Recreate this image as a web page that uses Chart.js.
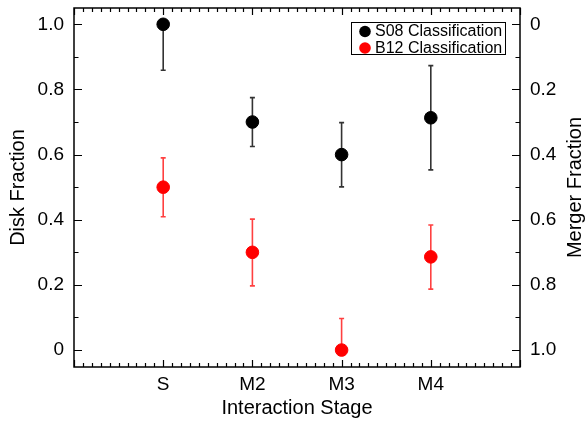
<!DOCTYPE html>
<html>
<head>
<meta charset="utf-8">
<script src="https://cdn.jsdelivr.net/npm/chart.js@4/dist/chart.umd.min.js"></script>
<style>
  html, body { margin: 0; padding: 0; background: #fff; }
  canvas { display: block; }
</style>
</head>
<body>
<canvas id="stageChart" width="587" height="422"></canvas>
<script>
// interaction stages (placed at x = 1..4)
const stages = ['S', 'M2', 'M3', 'M4'];

// disk fraction, S08 classification
const s08Values = [1.0, 0.70, 0.60, 0.713];
const s08Upper  = [1.0, 0.775, 0.698, 0.873];
const s08Lower  = [0.859, 0.625, 0.501, 0.553];

// disk fraction, B12 classification
const b12Values = [0.50, 0.30, 0.0, 0.286];
const b12Upper  = [0.59, 0.402, 0.097, 0.384];
const b12Lower  = [0.409, 0.197, 0.0, 0.187];

const yTicks = [0, 0.2, 0.4, 0.6, 0.8, 1.0];
const yMinorTicks = [0.1, 0.3, 0.5, 0.7, 0.9];

const FONT = "'Liberation Sans', Arial, sans-serif";

function toPoints(values, upper, lower) {
    return values.map((v, i) => ({ x: i + 1, y: v, yMax: upper[i], yMin: lower[i] }));
}

// keep the plot box where it is in the original
function noOverflow(s) {
    s.paddingTop = 0; s.paddingBottom = 0;
    s.paddingLeft = 0; s.paddingRight = 0;
}

// error bars drawn behind the markers
const errorBars = {
    id: 'errorBars',
    beforeDatasetsDraw(chart) {
        const ctx = chart.ctx;
        const xs = chart.scales.x, ys = chart.scales.y;
        chart.data.datasets.forEach(ds => {
            ctx.save();
            ctx.strokeStyle = ds.errorColor;
            ctx.lineWidth = 1.6;
            ds.data.forEach(p => {
                const x = xs.getPixelForValue(p.x);
                const top = ys.getPixelForValue(p.yMax);
                const bot = ys.getPixelForValue(p.yMin);
                ctx.beginPath();
                ctx.moveTo(x, top); ctx.lineTo(x, bot);
                if (p.yMax !== p.y) { ctx.moveTo(x - 2.5, top); ctx.lineTo(x + 2.5, top); }
                if (p.yMin !== p.y) { ctx.moveTo(x - 2.5, bot); ctx.lineTo(x + 2.5, bot); }
                ctx.stroke();
            });
            ctx.restore();
        });
    }
};

// frame, inward ticks, right title and legend box
const frame = {
    id: 'frame',
    afterDraw(chart) {
        const ctx = chart.ctx;
        const a = chart.chartArea;
        const xs = chart.scales.x, ys = chart.scales.y;
        ctx.save();
        ctx.strokeStyle = '#000';
        ctx.lineWidth = 1.5;
        ctx.strokeRect(a.left, a.top, a.right - a.left, a.bottom - a.top);

        ctx.lineWidth = 1.2;
        ctx.beginPath();
        // x ticks, top and bottom
        for (let i = 0; i <= 50; i++) {
            const v = i / 10;
            const len = (i % 10 === 0) ? 7 : 4;
            const x = Math.round(xs.getPixelForValue(v)) + 0.5;
            ctx.moveTo(x, a.bottom); ctx.lineTo(x, a.bottom - len);
            ctx.moveTo(x, a.top); ctx.lineTo(x, a.top + len);
        }
        // y ticks, left and right
        yTicks.concat(yMinorTicks).forEach(v => {
            const len = yTicks.includes(v) ? 8 : 4.5;
            const y = Math.round(ys.getPixelForValue(v)) + 0.5;
            ctx.moveTo(a.left, y); ctx.lineTo(a.left + len, y);
            ctx.moveTo(a.right, y); ctx.lineTo(a.right - len, y);
        });
        ctx.stroke();

        // right axis title, reads bottom to top
        ctx.fillStyle = '#000';
        ctx.font = '20px ' + FONT;
        ctx.textAlign = 'center';
        ctx.textBaseline = 'middle';
        ctx.translate(575, (a.top + a.bottom) / 2);
        ctx.rotate(-Math.PI / 2);
        ctx.fillText('Merger Fraction', 0, 0);
        ctx.restore();

        // legend
        ctx.save();
        ctx.fillStyle = '#fff';
        ctx.fillRect(351, 22, 154, 32);
        ctx.strokeStyle = '#000';
        ctx.lineWidth = 1;
        ctx.strokeRect(351.5, 22.5, 154, 32);
        ctx.font = '16px ' + FONT;
        ctx.textAlign = 'left';
        ctx.textBaseline = 'middle';
        chart.data.datasets.forEach((ds, i) => {
            const cy = 31.5 + i * 16.5;
            ctx.fillStyle = ds.backgroundColor;
            ctx.beginPath();
            ctx.arc(365, cy, 5.8, 0, Math.PI * 2);
            ctx.fill();
            ctx.fillStyle = '#000';
            ctx.fillText(ds.label, 375, cy + 0.5);
        });
        ctx.restore();
    }
};

new Chart(document.getElementById('stageChart'), {
    type: 'scatter',
    data: {
        datasets: [
            {
                label: 'S08 Classification',
                data: toPoints(s08Values, s08Upper, s08Lower),
                backgroundColor: '#000',
                borderColor: '#000',
                errorColor: '#333',
                pointRadius: 6.3,
                pointHoverRadius: 6.3
            },
            {
                label: 'B12 Classification',
                data: toPoints(b12Values, b12Upper, b12Lower),
                backgroundColor: '#ff0000',
                borderColor: '#ff0000',
                errorColor: 'rgba(255, 0, 0, 0.75)',
                pointRadius: 6.3,
                pointHoverRadius: 6.3
            }
        ]
    },
    options: {
        responsive: false,
        animation: false,
        layout: { padding: { top: 8, left: 0, right: 0, bottom: 0 } },
        plugins: {
            legend: { display: false },
            tooltip: { enabled: false }
        },
        scales: {
            x: {
                type: 'linear',
                min: 0,
                max: 5,
                afterFit: s => { s.height = 55; noOverflow(s); },
                afterBuildTicks: s => { s.ticks = stages.map((_, i) => ({ value: i + 1 })); },
                grid: { display: false, drawTicks: false },
                border: { display: false },
                ticks: {
                    padding: 6,
                    color: '#000',
                    font: { family: FONT, size: 19 },
                    callback: v => stages[v - 1]
                },
                title: {
                    display: true,
                    text: 'Interaction Stage',
                    color: '#000',
                    font: { family: FONT, size: 20 },
                    padding: { top: 0, bottom: 2 }
                }
            },
            y: {
                position: 'left',
                min: -0.052,
                max: 1.05,
                afterFit: s => { s.width = 74; noOverflow(s); },
                afterBuildTicks: s => { s.ticks = yTicks.map(v => ({ value: v })); },
                grid: { display: false, drawTicks: false },
                border: { display: false },
                ticks: {
                    padding: 10,
                    color: '#000',
                    font: { family: FONT, size: 19 },
                    callback: v => v === 0 ? '0' : v.toFixed(1)
                },
                title: {
                    display: true,
                    text: 'Disk Fraction',
                    color: '#000',
                    font: { family: FONT, size: 20 },
                    padding: { top: 6, bottom: 0 }
                }
            },
            y2: {
                position: 'right',
                reverse: true,
                min: -0.05,
                max: 1.052,
                afterFit: s => { s.width = 67; noOverflow(s); },
                afterBuildTicks: s => { s.ticks = yTicks.map(v => ({ value: v })); },
                grid: { display: false, drawTicks: false },
                border: { display: false },
                ticks: {
                    padding: 10,
                    color: '#000',
                    font: { family: FONT, size: 19 },
                    callback: v => v === 0 ? '0' : v.toFixed(1)
                }
            }
        }
    },
    plugins: [errorBars, frame]
});
</script>
</body>
</html>
